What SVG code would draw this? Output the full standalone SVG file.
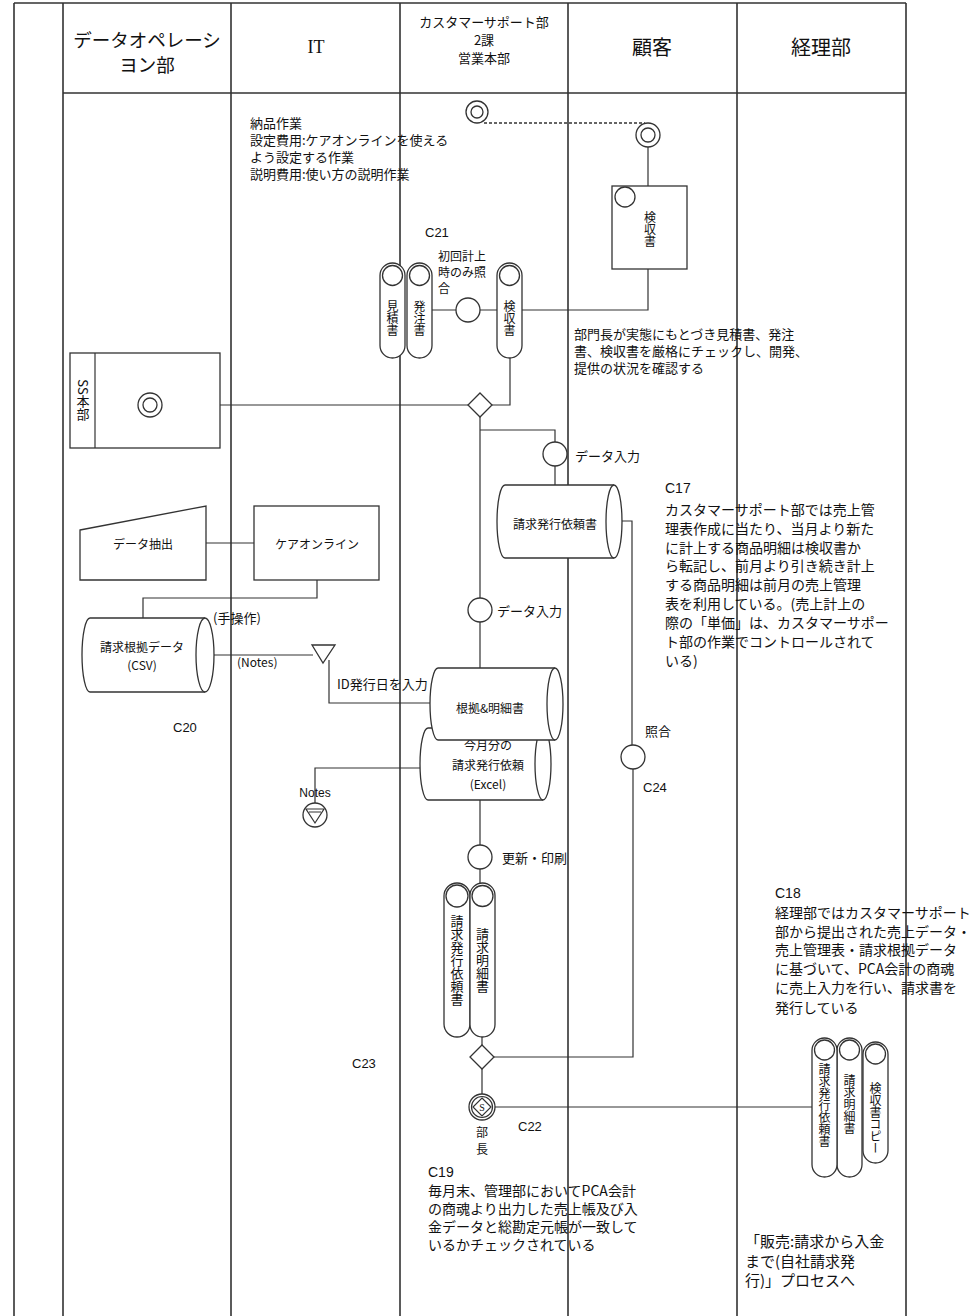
<svg xmlns="http://www.w3.org/2000/svg" width="976" height="1316" viewBox="0 0 976 1316">
<style>
.lane{stroke:#333;stroke-width:1.6;fill:none}
.ln{stroke:#333;stroke-width:1.2;fill:none}
.dot{stroke:#333;stroke-width:1.4;fill:none;stroke-dasharray:3 2}
.sh{stroke:#333;stroke-width:1.3;fill:#fff}
.t{font-family:"Noto Sans CJK JP","Noto Sans",sans-serif;fill:#111;dominant-baseline:central}
.s13{font-size:13px}
.s14{font-size:14px}
.s12{font-size:12px}
.hd{font-size:18.5px;text-anchor:middle}
.c{text-anchor:middle}
.v{writing-mode:vertical-rl;text-anchor:middle;font-size:12px}
.lat{font-family:"Liberation Sans",sans-serif}
</style>
<rect width="976" height="1316" fill="#fff"/>
<g id="lanes">
<path class="lane" d="M14,3 H906 M63,93 H906 M14,3 V1316 M63,3 V1316 M231,3 V1316 M400,3 V1316 M568,3 V1316 M737,3 V1316 M906,3 V1316"/>
<text class="t hd" x="147" y="39">データオペレーシ</text>
<text class="t hd" x="147" y="64">ヨン部</text>
<text class="t hd" x="316" y="47" style="font-family:'Liberation Serif',serif;font-size:18px">IT</text>
<text class="t c" x="484" y="21" style="font-size:13px">カスタマーサポート部</text>
<text class="t c" x="484" y="39" style="font-size:13px">2課</text>
<text class="t c" x="484" y="57" style="font-size:13px">営業本部</text>
<text class="t hd" x="652" y="46" style="font-size:20px">顧客</text>
<text class="t hd" x="821" y="46" style="font-size:20px">経理部</text>
</g>
<g id="connectors">
<path class="dot" d="M484,123 H645"/>
<path class="ln" d="M648,147 V186 M648,269 V310 H522 M432,310 H456 M480,310 H497 M510,358 V405 H492 M162,405 H468"/>
<path class="ln" d="M480,417 V598 M480,430 H555 V442 M555,466 V485 M622,521 H632 V745 M633,769 V1057 H494"/>
<path class="ln" d="M480,622 V668 M205,655 H313 M329,660 V703 H430 M317,580 V598 H143 V618 M206,543 H254"/>
<path class="ln" d="M420,768 H315 V803 M480,800 V845 M480,869 V883 M482,1037 V1045 M482,1069 V1094 M495,1107 H812"/>
</g>
<g id="note-nohin">
<text class="t s13" x="250" y="122">納品作業</text>
<text class="t s13" x="250" y="139">設定費用:ケアオンラインを使える</text>
<text class="t s13" x="250" y="156">よう設定する作業</text>
<text class="t s13" x="250" y="173">説明費用:使い方の説明作業</text>
</g>
<g id="start-cs"><circle class="sh" cx="477" cy="112" r="11"/><circle class="sh" cx="477" cy="112" r="6"/></g>
<g id="start-cust"><circle class="sh" cx="648" cy="135" r="12"/><circle class="sh" cx="648" cy="135" r="7"/></g>
<g id="cust-kenshu">
<rect class="sh" x="612" y="186" width="75" height="83"/>
<circle class="sh" cx="625" cy="197" r="10"/>
<text class="t v" x="650" y="229">検収書</text>
</g>
<g id="label-c21">
<text class="t s13 lat" x="425" y="232">C21</text>
<text class="t s12" x="438" y="255">初回計上</text>
<text class="t s12" x="438" y="271">時のみ照</text>
<text class="t s12" x="438" y="287">合</text>
</g>
<g id="pill-mitsumori"><rect class="sh" x="380" y="263" width="25" height="95" rx="12.5"/><circle class="sh" cx="392.5" cy="275.5" r="10"/><text class="t v" x="392.5" y="318">見積書</text></g>
<g id="pill-hatchu"><rect class="sh" x="407" y="263" width="25" height="95" rx="12.5"/><circle class="sh" cx="419.5" cy="275.5" r="10"/><text class="t v" x="419.5" y="318">発注書</text></g>
<g id="check-circle"><circle class="sh" cx="468" cy="310" r="12"/></g>
<g id="pill-kenshu"><rect class="sh" x="497" y="263" width="25" height="95" rx="12.5"/><circle class="sh" cx="509.5" cy="275.5" r="10"/><text class="t v" x="509.5" y="318">検収書</text></g>
<g id="note-bumoncho">
<text class="t s13" x="574" y="333">部門長が実態にもとづき見積書、発注</text>
<text class="t s13" x="574" y="350">書、検収書を厳格にチェックし、開発、</text>
<text class="t s13" x="574" y="367">提供の状況を確認する</text>
</g>
<g id="ss-honbu">
<rect class="sh" x="70" y="353" width="150" height="95"/>
<path class="ln" d="M95,353 V448"/>
<text class="t v" x="83" y="400" style="font-size:13px">SS本部</text>
<circle class="sh" cx="150" cy="405" r="12"/><circle class="sh" cx="150" cy="405" r="7"/>
</g>
<g id="diamond1"><path class="sh" d="M480,393 L492,405 L480,417 L468,405 Z"/></g>
<g id="input1"><circle class="sh" cx="555" cy="454" r="12"/><text class="t s13" x="575" y="455">データ入力</text></g>
<g id="cyl-seikyu-irai">
<path class="sh" d="M614,485 H505 A8,36.5 0 0 0 505,558 H614"/>
<ellipse class="sh" cx="614" cy="521.5" rx="8" ry="36.5"/>
<text class="t c s12" x="555" y="523">請求発行依頼書</text>
</g>
<g id="note-c17">
<text class="t s14 lat" x="665" y="488">C17</text>
<text class="t s14" x="665" y="509">カスタマーサポート部では売上管</text>
<text class="t s14" x="665" y="528">理表作成に当たり、当月より新た</text>
<text class="t s14" x="665" y="547">に計上する商品明細は検収書か</text>
<text class="t s14" x="665" y="565">ら転記し、前月より引き続き計上</text>
<text class="t s14" x="665" y="584">する商品明細は前月の売上管理</text>
<text class="t s14" x="665" y="603">表を利用している。(売上計上の</text>
<text class="t s14" x="665" y="622">際の「単価」は、カスタマーサポー</text>
<text class="t s14" x="665" y="641">ト部の作業でコントロールされて</text>
<text class="t s14" x="665" y="660">いる)</text>
</g>
<g id="data-extract">
<path class="sh" d="M80,530 L206,506 L206,580 L80,580 Z"/>
<text class="t c s12" x="143" y="543">データ抽出</text>
</g>
<g id="care-online">
<rect class="sh" x="254" y="506" width="125" height="74"/>
<text class="t c s12" x="317" y="543">ケアオンライン</text>
</g>
<g id="input2"><circle class="sh" cx="480" cy="610" r="12"/><text class="t s13" x="497" y="610">データ入力</text></g>
<g id="cyl-csv">
<path class="sh" d="M205,618 H90 A8,37 0 0 0 90,692 H205"/>
<ellipse class="sh" cx="205" cy="655" rx="9" ry="37"/>
<text class="t c s12" x="142" y="646">請求根拠データ</text>
<text class="t c s12" x="142" y="664">(CSV)</text>
</g>
<text class="t s13" x="213" y="617">(手操作)</text>
<text class="t s12" x="237" y="661">(Notes)</text>
<g id="merge-tri"><path class="sh" d="M312,645 L335,645 L323,663 Z"/></g>
<text class="t s13" x="337" y="683">ID発行日を入力</text>
<text class="t s13 lat" x="173" y="727">C20</text>
<g id="cyl-excel">
<path class="sh" d="M543,728 H428 A8,36 0 0 0 428,800 H543"/>
<ellipse class="sh" cx="543" cy="764" rx="8" ry="36"/>
<text class="t c s12" x="488" y="744">今月分の</text>
<text class="t c s12" x="488" y="764">請求発行依頼</text>
<text class="t c s12" x="488" y="783">(Excel)</text>
</g>
<g id="cyl-konkyo">
<path class="sh" d="M555,668 H438 A8,36 0 0 0 438,740 H555"/>
<ellipse class="sh" cx="555" cy="704" rx="8" ry="36"/>
<text class="t c s12" x="490" y="707">根拠&amp;明細書</text>
</g>
<g id="check2"><circle class="sh" cx="633" cy="757" r="12"/><text class="t s13" x="645" y="730">照合</text><text class="t s13 lat" x="643" y="787">C24</text></g>
<g id="notes-end">
<text class="t c s12 lat" x="315" y="793">Notes</text>
<circle class="sh" cx="315" cy="815" r="12"/>
<path class="ln" d="M306,809 H324 L315,823 Z M309,812 H321"/>
</g>
<g id="update"><circle class="sh" cx="480" cy="857" r="12"/><text class="t s13" x="502" y="857">更新・印刷</text></g>
<g id="pill-irai2"><rect class="sh" x="444" y="883" width="26" height="154" rx="13"/><circle class="sh" cx="457" cy="896" r="11"/><text class="t v" x="457" y="960" style="font-size:13px">請求発行依頼書</text></g>
<g id="pill-meisai2"><rect class="sh" x="470" y="883" width="25" height="154" rx="12.5"/><circle class="sh" cx="482.5" cy="896" r="10.5"/><text class="t v" x="482.5" y="960" style="font-size:13px">請求明細書</text></g>
<g id="note-c18">
<text class="t s14 lat" x="775" y="893">C18</text>
<text class="t s14" x="775" y="912">経理部ではカスタマーサポート</text>
<text class="t s14" x="775" y="931">部から提出された売上データ・</text>
<text class="t s14" x="775" y="949">売上管理表・請求根拠データ</text>
<text class="t s14" x="775" y="968">に基づいて、PCA会計の商魂</text>
<text class="t s14" x="775" y="987">に売上入力を行い、請求書を</text>
<text class="t s14" x="775" y="1007">発行している</text>
</g>
<g id="diamond2"><path class="sh" d="M482,1045 L494,1057 L482,1069 L470,1057 Z"/></g>
<text class="t s13 lat" x="352" y="1063">C23</text>
<g id="approve">
<circle class="sh" cx="482" cy="1107" r="13"/>
<circle class="ln" cx="482" cy="1107" r="10.5"/>
<path class="ln" d="M482,1098 L491,1107 L482,1116 L473,1107 Z"/>
<text class="t c" x="482" y="1107" style="font-size:10px;font-family:'Liberation Serif',serif">S</text>
<text class="t c s12" x="482" y="1131">部</text>
<text class="t c s12" x="482" y="1148">長</text>
<text class="t s13 lat" x="518" y="1126">C22</text>
</g>
<g id="acct-pills">
<rect class="sh" x="863" y="1042" width="25" height="121" rx="12.5"/><circle class="sh" cx="875.5" cy="1054" r="10"/><text class="t v" x="875.5" y="1118">検収書コピー</text>
<rect class="sh" x="837" y="1038" width="25" height="139" rx="12.5"/><circle class="sh" cx="849.5" cy="1050" r="10"/><text class="t v" x="849.5" y="1104">請求明細書</text>
<rect class="sh" x="812" y="1038" width="25" height="139" rx="12.5"/><circle class="sh" cx="824.5" cy="1050" r="10"/><text class="t v" x="824.5" y="1105">請求発行依頼書</text>
</g>
<g id="note-c19">
<text class="t s14 lat" x="428" y="1172">C19</text>
<text class="t s14" x="428" y="1190">毎月末、管理部においてPCA会計</text>
<text class="t s14" x="428" y="1208">の商魂より出力した売上帳及び入</text>
<text class="t s14" x="428" y="1226">金データと総勘定元帳が一致して</text>
<text class="t s14" x="428" y="1244">いるかチェックされている</text>
</g>
<g id="note-next">
<text class="t" x="745" y="1240" style="font-size:15px">「販売:請求から入金</text>
<text class="t" x="745" y="1260" style="font-size:15px">まで(自社請求発</text>
<text class="t" x="745" y="1279" style="font-size:15px">行)」プロセスへ</text>
</g>
</svg>
